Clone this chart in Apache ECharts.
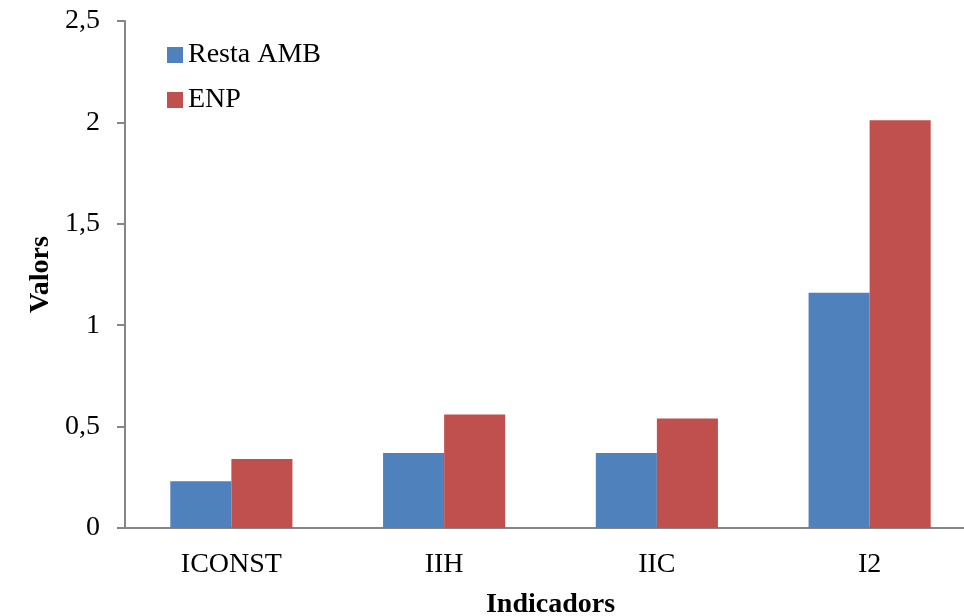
<!DOCTYPE html>
<html><head><meta charset="utf-8">
<script src="https://cdn.jsdelivr.net/npm/echarts@6/dist/echarts.min.js"></script>
<style>html,body{margin:0;padding:0;background:#fff}#c{width:964px;height:616px}</style>
</head><body><div id="c"></div>
<script>
const categories = ['ICONST', 'IIH', 'IIC', 'I2'];
const restaAMB = [0.23, 0.37, 0.37, 1.16];
const enp = [0.34, 0.56, 0.54, 2.01];
const seriesNames = ['Resta AMB', 'ENP'];
const yMin = 0, yMax = 2.5, yStep = 0.5;

const font = 'Liberation Serif, Times New Roman, serif';
const chart = echarts.init(document.getElementById('c'));
chart.setOption({
  animation: false,
  textStyle: { fontFamily: font },
  grid: { left: 125, top: 21, right: -12, bottom: 88, containLabel: false, outerBoundsMode: 'none' },
  legend: {
    orient: 'vertical', left: 162, top: 36,
    icon: 'rect', itemWidth: 16, itemHeight: 16, itemGap: 17,
    textStyle: { fontFamily: font, fontSize: 28, color: '#000' },
    data: seriesNames
  },
  xAxis: {
    type: 'category', data: categories,
    name: 'Indicadors', nameLocation: 'middle', nameGap: 63,
    nameTextStyle: { fontFamily: font, fontSize: 28, fontWeight: 'bold', color: '#000' },
    axisLine: { lineStyle: { color: '#868686', width: 2 } },
    axisTick: { show: false },
    axisLabel: { color: '#000', fontSize: 28, fontFamily: font, margin: 23 }
  },
  yAxis: {
    type: 'value', min: yMin, max: yMax, interval: yStep,
    name: 'Valors', nameLocation: 'middle', nameGap: 70, nameMoveOverlap: false,
    nameTextStyle: { fontFamily: font, fontSize: 28, fontWeight: 'bold', color: '#000' },
    axisLine: { show: true, lineStyle: { color: '#868686', width: 2 } },
    axisTick: { show: true, length: 8, lineStyle: { color: '#868686', width: 2 } },
    splitLine: { show: false },
    axisLabel: { color: '#000', fontSize: 28, fontFamily: font, margin: 25,
      formatter: v => String(v).replace('.', ',') }
  },
  series: [
    { name: seriesNames[0], type: 'bar', data: restaAMB, barGap: '0%', barCategoryGap: '42.6%',
      itemStyle: { color: '#4F81BD' } },
    { name: seriesNames[1], type: 'bar', data: enp, barGap: '0%', barCategoryGap: '42.6%',
      itemStyle: { color: '#C0504D' } }
  ]
});
</script></body></html>
